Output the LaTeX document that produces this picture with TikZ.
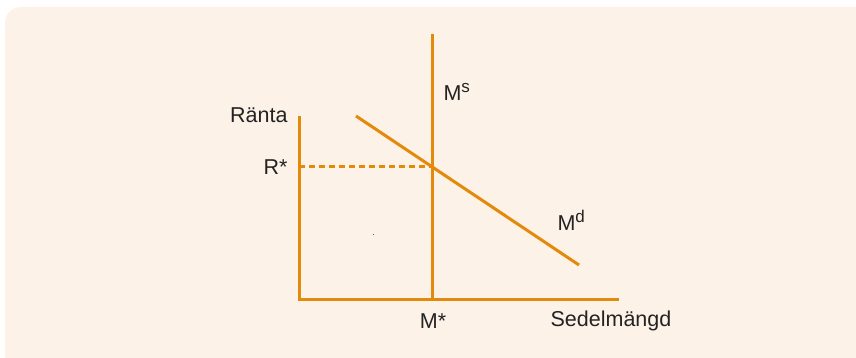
\documentclass[tikz,border=0pt]{standalone}
\usepackage{fontspec}
\setmainfont{Liberation Sans}
\usetikzlibrary{positioning,calc}
\definecolor{kurva}{RGB}{227,138,10}
\definecolor{bakgrund}{RGB}{253,242,232}
\definecolor{text}{RGB}{35,35,35}
\newcommand{\upph}[1]{\raisebox{0.36em}{\fontsize{17}{18}\selectfont #1}}

\begin{document}
\begin{tikzpicture}[x=1pt,y=-1pt,line width=3pt,
  lbl/.style={text=text,font=\fontsize{21.5}{24}\selectfont,inner sep=0pt}]
  \useasboundingbox (0,0) rectangle (856,358);
  \fill[bakgrund,rounded corners=16pt] (5,7) rectangle (880,380);
  % axlar
  \coordinate (O) at (299,299);
  \draw[kurva] (299,116) -- (O) -- (619,299);
  % utbud och efterfraagan
  \coordinate (ms0) at (432,34);
  \coordinate (ms1) at (432,299);
  \coordinate (md0) at (356,116);
  \coordinate (md1) at (579,265);
  \coordinate (jv) at (432,166.8);
  \draw[kurva] (ms0) -- (ms1);
  \draw[kurva] (md0) -- (md1);
  \draw[kurva,dash pattern=on 6pt off 4pt,line width=2.6pt] (299,166.8) -- (jv);
  \fill[text!70] (373,234) rectangle +(1.3,1.3);
  % texter
  \node[lbl,anchor=east] (ranta) at (289,115) {Ränta};
  \node[lbl,anchor=east] (rstar) at (289,167) {R*};
  \node[lbl] (mstar) at (433,321) {M*};
  \node[lbl] (sedel) at (611,321) {Sedelmängd};
  \node[lbl,anchor=west] (ms) at (442,92) {M\upph{s}};
  \node[lbl,anchor=west] (md) at (556,220) {M\upph{d}};
\end{tikzpicture}
\end{document}
